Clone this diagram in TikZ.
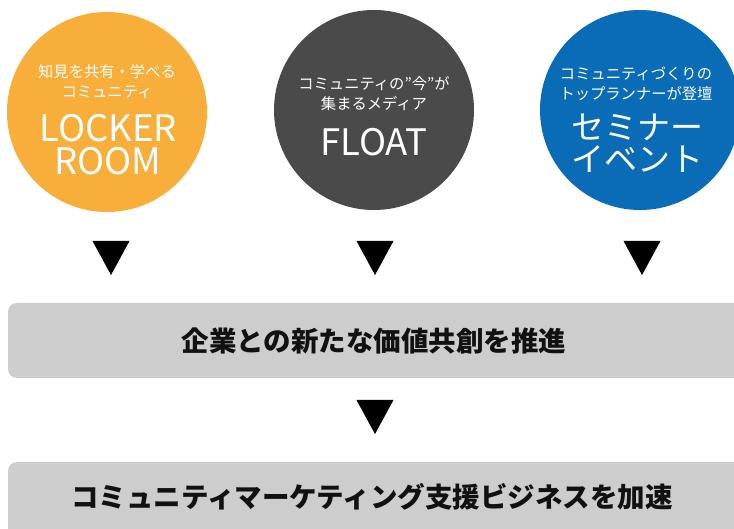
\documentclass[tikz,border=0pt]{standalone}
\usepackage{fontspec}
\setmainfont{Noto Sans CJK JP}
\definecolor{corange}{HTML}{F7AE3B}
\definecolor{cgray}{HTML}{4A4A4A}
\definecolor{cblue}{HTML}{0A6BB6}
\definecolor{cbox}{HTML}{CDCDCD}
\definecolor{ctext}{HTML}{111111}
\newcommand{\dq}{\char"22\relax}
\tikzset{
  circ/.style={circle, minimum size=200pt, inner sep=0pt},
  small/.style={text=white, font=\fontsize{15.3}{20}\selectfont, align=center, inner sep=0pt},
  big/.style={text=white, font=\fontsize{36.5}{33}\selectfont, align=center, inner sep=0pt},
  bigjp/.style={text=white, font=\fontsize{33}{32}\selectfont, align=center, inner sep=0pt},
  bar/.style={fill=cbox, rounded corners=9pt},
  bartext/.style={text=ctext, font=\bfseries\fontsize{27.5}{30}\selectfont, inner sep=0pt},
  tri/.style={fill=black}
}
\begin{document}
\begin{tikzpicture}[x=1pt,y=-1pt]
\clip (0,0) rectangle (734,529);
\fill[white] (0,0) rectangle (734,529);
% circles
\node[circ, fill=corange] (c1) at (107,112) {};
\node[circ, fill=cgray] (c2) at (374,110) {};
\node[circ, fill=cblue] (c3) at (640,110) {};
% circle texts
\node[small] (t1) at (107,82) {知見を共有・学べる\\コミュニティ};
\node[big] (l1) at (108,145) {LOCKER\\ROOM};
\node[small] (t2) at (374,94) {コミュニティの\dq 今\dq が\\集まるメディア};
\node[big] (l2) at (374,142) {FLOAT};
\node[small] (t3) at (636,84) {コミュニティづくりの\\トップランナーが登壇};
\node[bigjp] (l3) at (637,143) {セミナー\\イベント};
% triangles
\foreach \n/\x/\y in {a/111/241, b/375/241, c/642/241, d/375/400}{
  \coordinate (\n) at (\x,\y);
  \fill[tri] ([xshift=-18.5pt]\n) -- ([xshift=18.5pt]\n) -- ([yshift=-34pt]\n) -- cycle;
}
% bars
\fill[bar] (8,303) rectangle (760,378);
\node[bartext] (b1) at (374,341) {企業との新たな価値共創を推進};
\fill[bar] (8,462) rectangle (760,545);
\node[bartext] (b2) at (372,497) {コミュニティマーケティング支援ビジネスを加速};
\end{tikzpicture}
\end{document}
